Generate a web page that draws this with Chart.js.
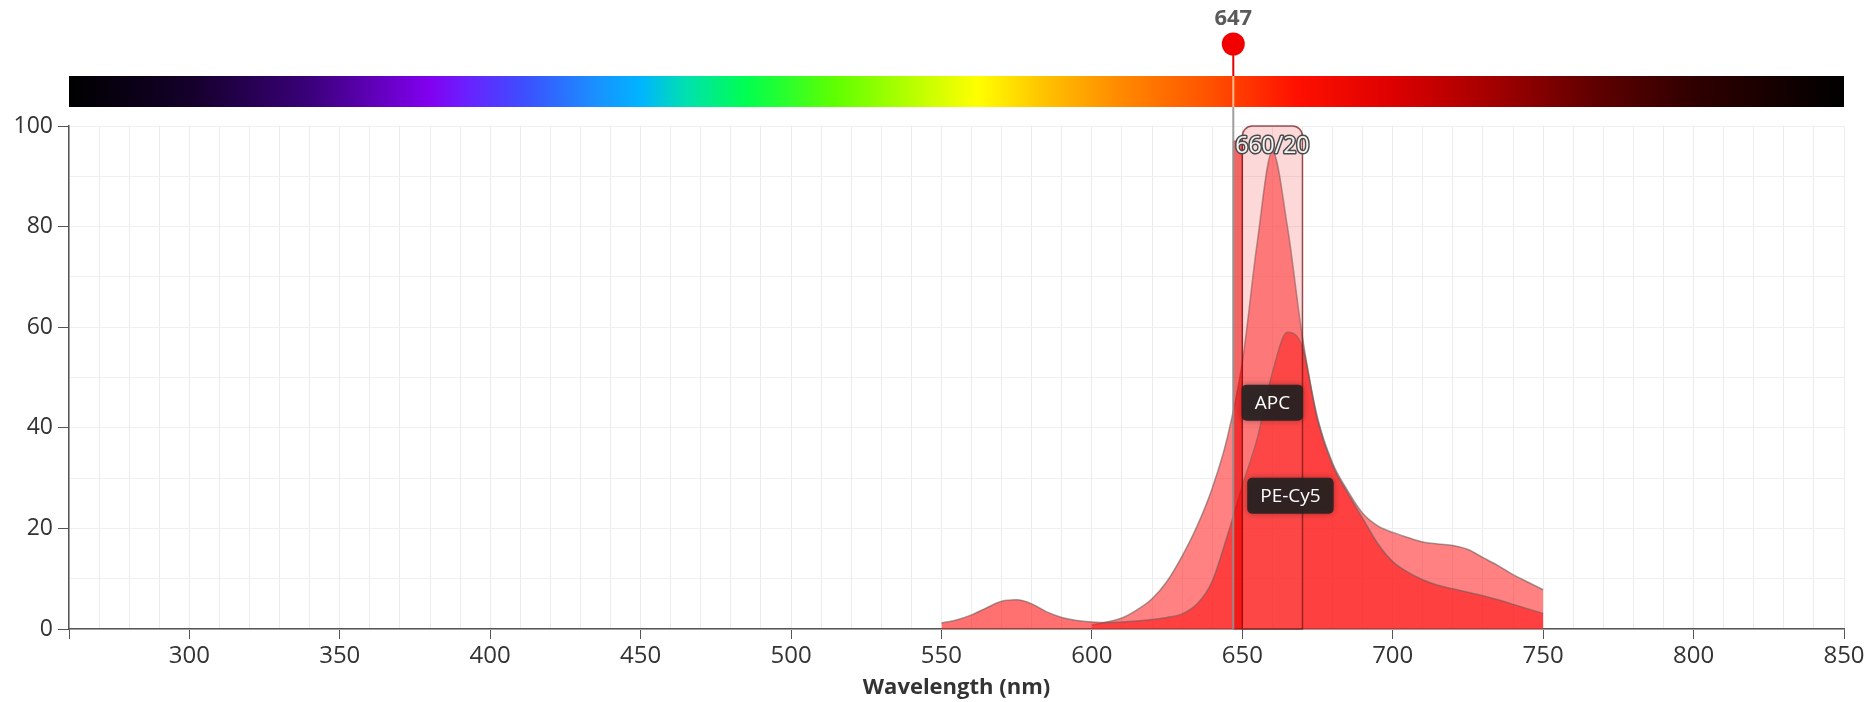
<!DOCTYPE html>
<html>
<head>
<meta charset="utf-8">
<style>
  html, body { margin: 0; background: #fff; }
</style>
<script src="https://cdn.jsdelivr.net/npm/chart.js@4.4.1/dist/chart.umd.min.js"></script>
</head>
<body>
<canvas id="spectra-chart" width="1875" height="702"></canvas>
<script>
// emission spectra (nm, % of max)
const apcWave = [600, 605, 610, 615, 620, 625, 630, 635, 640, 645, 650, 655, 660, 665, 670, 675, 680, 685, 690, 695,
    700, 705, 710, 715, 720, 725, 730, 735, 740, 745, 750];
const apcValues = [0.8, 1.4, 2.2, 3.8, 6.0, 9.5, 14.5, 20.5, 28, 38, 53, 77, 95, 80, 58, 42, 33, 27.5, 23, 20.5,
    19.2, 18.2, 17.3, 16.9, 16.6, 15.8, 14.2, 12.6, 10.8, 9.3, 7.8];

const pecy5Wave = [550, 555, 560, 565, 570, 575, 580, 585, 590, 595, 600, 605, 610, 615, 620, 625, 630, 635, 640, 645,
    650, 655, 660, 665, 670, 675, 680, 685, 690, 695, 700, 705, 710, 715, 720, 725, 730, 735, 740, 745, 750];
const pecy5Values = [1.2, 1.8, 2.8, 4.2, 5.5, 5.8, 5.0, 3.4, 2.3, 1.7, 1.4, 1.3, 1.4, 1.6, 1.9, 2.3, 3.0, 5.0, 9.5, 18.5,
    28.5, 38, 51, 59, 56, 41.5, 32.5, 27, 22, 17, 13.4, 11.3, 9.8, 8.7, 8, 7.3, 6.6, 5.8, 4.9, 4, 3.1];

const dyeNames = ['APC', 'PE-Cy5'];
const dyeLabelNm = [660, 666];
const dyeLabelLevel = [45, 26.5];

const laserNm = 647;
const laserLevel = 97;
const filterName = '660/20';
const filterCenter = 660;
const filterWidth = 20;

const xMin = 260;
const xMax = 850;
const xLabelStep = 50;
const yLabelStep = 20;

// visible spectrum strip
const barNm = [260, 300, 340, 380, 392, 412, 435, 450, 465, 485, 515, 545, 562, 585, 610, 640, 668, 700, 735, 767, 800, 850];
const barColors = ['#000000', '#14002a', '#3a007a', '#8200f0', '#6a20ff', '#3c50ff', '#1a90ff', '#00b4ff', '#00e0b0',
    '#00ff50', '#60ff00', '#c8ff00', '#ffff00', '#ffc000', '#ff8800', '#ff5000', '#ff1000', '#dd0000', '#a00000',
    '#600000', '#300000', '#000000'];

const FONT = '"Liberation Sans Narrow", "Open Sans", sans-serif';

const overlay = {
    id: 'overlay',
    afterDraw(chart) {
        const { ctx, scales: { x, y } } = chart;
        ctx.save();

        // spectrum bar
        const left = x.getPixelForValue(xMin);
        const right = x.getPixelForValue(xMax);
        const grad = ctx.createLinearGradient(left, 0, right, 0);
        barNm.forEach((nm, i) => grad.addColorStop((nm - xMin) / (xMax - xMin), barColors[i]));
        ctx.fillStyle = grad;
        ctx.fillRect(left, 76, right - left, 31);

        // filter band
        const fl = x.getPixelForValue(filterCenter - filterWidth / 2);
        const fr = x.getPixelForValue(filterCenter + filterWidth / 2);
        const top = y.getPixelForValue(100);
        const bottom = y.getPixelForValue(0);
        ctx.beginPath();
        ctx.roundRect(fl, top, fr - fl, bottom - top, [10, 10, 0, 0]);
        ctx.fillStyle = 'rgba(245, 90, 90, 0.24)';
        ctx.fill();
        ctx.strokeStyle = 'rgba(120, 25, 25, 0.75)';
        ctx.lineWidth = 1.5;
        ctx.stroke();

        // laser band inside the plot
        const lx = x.getPixelForValue(laserNm);
        const ly = y.getPixelForValue(laserLevel);
        ctx.fillStyle = 'rgba(235, 0, 0, 0.6)';
        ctx.fillRect(lx, ly, fl - lx, bottom - ly);
        ctx.strokeStyle = 'rgba(150, 0, 0, 0.6)';
        ctx.lineWidth = 1;
        ctx.strokeRect(lx, ly, fl - lx, bottom - ly);

        // laser line
        ctx.lineWidth = 2;
        ctx.strokeStyle = 'rgba(150, 150, 150, 0.9)';
        ctx.beginPath();
        ctx.moveTo(lx, 107);
        ctx.lineTo(lx, bottom);
        ctx.stroke();
        ctx.strokeStyle = 'rgba(255, 200, 160, 0.9)';
        ctx.beginPath();
        ctx.moveTo(lx, 76);
        ctx.lineTo(lx, 107);
        ctx.stroke();
        ctx.strokeStyle = '#e80000';
        ctx.beginPath();
        ctx.moveTo(lx, 44);
        ctx.lineTo(lx, 76);
        ctx.stroke();
        ctx.beginPath();
        ctx.arc(lx, 44, 11.5, 0, Math.PI * 2);
        ctx.fillStyle = '#f20000';
        ctx.fill();

        ctx.fillStyle = '#5a5a5a';
        ctx.font = 'bold 22px ' + FONT;
        ctx.textAlign = 'center';
        ctx.textBaseline = 'middle';
        ctx.fillText(String(laserNm), lx, 19);

        // filter name
        ctx.font = '23px ' + FONT;
        ctx.lineJoin = 'round';
        ctx.lineWidth = 3;
        ctx.strokeStyle = '#4a4a4a';
        ctx.strokeText(filterName, x.getPixelForValue(filterCenter), y.getPixelForValue(96));
        ctx.fillStyle = '#f4f4f4';
        ctx.fillText(filterName, x.getPixelForValue(filterCenter), y.getPixelForValue(96));

        // dye tags
        ctx.font = '19px ' + FONT;
        dyeNames.forEach((name, i) => {
            const cx = x.getPixelForValue(dyeLabelNm[i]);
            const cy = y.getPixelForValue(dyeLabelLevel[i]);
            const w = ctx.measureText(name).width + 26;
            const h = 36;
            ctx.save();
            ctx.shadowColor = 'rgba(0, 0, 0, 0.35)';
            ctx.shadowBlur = 6;
            ctx.beginPath();
            ctx.roundRect(cx - w / 2, cy - h / 2, w, h, 5);
            ctx.fillStyle = 'rgba(38, 34, 34, 0.92)';
            ctx.fill();
            ctx.restore();
            ctx.fillStyle = '#ffffff';
            ctx.fillText(name, cx, cy + 1);
        });

        ctx.restore();
    },
};

const toPoints = (xs, ys) => xs.map((v, i) => ({ x: v, y: ys[i] }));

new Chart(document.getElementById('spectra-chart'), {
    type: 'line',
    data: {
        datasets: [
            {
                label: 'PE-Cy5',
                data: toPoints(pecy5Wave, pecy5Values),
                fill: 'origin',
                backgroundColor: 'rgba(255, 25, 25, 0.62)',
                borderColor: 'rgba(110, 90, 90, 0.6)',
                borderWidth: 1.5,
                pointRadius: 0,
                cubicInterpolationMode: 'monotone',
            },
            {
                label: 'APC',
                data: toPoints(apcWave, apcValues),
                fill: 'origin',
                backgroundColor: 'rgba(255, 45, 45, 0.6)',
                borderColor: 'rgba(110, 90, 90, 0.6)',
                borderWidth: 1.5,
                pointRadius: 0,
                cubicInterpolationMode: 'monotone',
            },
        ],
    },
    options: {
        responsive: false,
        animation: false,
        layout: {
            padding: { top: 126, right: 31, bottom: 0, left: 0 },
        },
        scales: {
            x: {
                type: 'linear',
                min: xMin,
                max: xMax,
                afterFit: (scale) => { scale.height = 73; },
                border: { color: '#555', width: 1.5 },
                grid: {
                    color: '#ececec',
                    tickLength: 10,
                    tickColor: (c) => (c.tick.value % xLabelStep === 0 || c.tick.value === xMin ? '#555' : 'rgba(0,0,0,0)'),
                },
                ticks: {
                    stepSize: 10,
                    autoSkip: false,
                    maxRotation: 0,
                    padding: 3,
                    color: '#333',
                    font: { family: FONT, size: 24 },
                    callback: (v) => (v % xLabelStep === 0 ? v : ''),
                },
                title: {
                    display: true,
                    text: 'Wavelength (nm)',
                    color: '#333',
                    font: { family: FONT, size: 22, weight: 'bold' },
                    padding: { top: 0, bottom: 1 },
                },
            },
            y: {
                min: 0,
                max: 100,
                afterFit: (scale) => { scale.width = 69; },
                border: { color: '#555', width: 1.5 },
                grid: {
                    color: '#efefef',
                    tickLength: 11,
                    tickColor: (c) => (c.tick.value % yLabelStep === 0 ? '#555' : 'rgba(0,0,0,0)'),
                },
                ticks: {
                    stepSize: 10,
                    padding: 5,
                    color: '#333',
                    font: { family: FONT, size: 23 },
                    callback: (v) => (v % yLabelStep === 0 ? v : ''),
                },
            },
        },
        plugins: {
            legend: { display: false },
            tooltip: { enabled: false },
        },
    },
    plugins: [overlay],
});
</script>
</body>
</html>
